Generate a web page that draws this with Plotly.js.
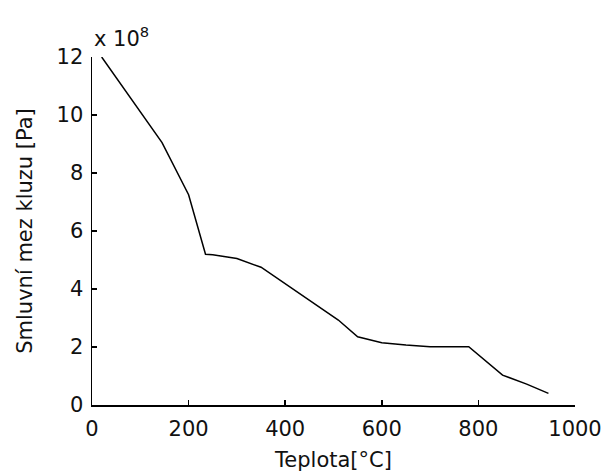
<!DOCTYPE html>
<html>
<head>
<meta charset="utf-8">
<script src="https://cdn.plot.ly/plotly-3.0.1.min.js"></script>
<style>
  html, body { margin: 0; padding: 0; background: #fff; }
  #chart { width: 604px; height: 474px; }
</style>
</head>
<body>
<div id="chart"></div>
<script>
// Temperature [°C]
const temperature = [20, 145, 200, 235, 250, 300, 350, 510, 550, 600, 650, 700, 780, 850, 900, 945];
// Conventional yield strength, in units of 10^8 Pa
const yieldStrength = [12.0, 9.05, 7.25, 5.2, 5.18, 5.05, 4.75, 2.93, 2.35, 2.15, 2.07, 2.01, 2.01, 1.03, 0.72, 0.40];

const xTicks = [0, 200, 400, 600, 800, 1000];
const yTicks = [0, 2, 4, 6, 8, 10, 12];

const font = { family: 'DejaVu Sans, Verdana, sans-serif', size: 21, color: '#111' };

const trace = {
  x: temperature,
  y: yieldStrength,
  type: 'scatter',
  mode: 'lines',
  line: { color: '#000', width: 1.5 },
  hoverinfo: 'skip'
};

const axisCommon = {
  showgrid: false,
  zeroline: false,
  showline: true,
  linecolor: '#000',
  linewidth: 1.5,
  ticks: 'inside',
  ticklen: 5,
  tickwidth: 1.5,
  tickcolor: '#000',
  tickfont: font,
  tickmode: 'array'
};

const layout = {
  width: 604,
  height: 474,
  margin: { l: 92, r: 29, t: 57, b: 69 },
  paper_bgcolor: '#fff',
  plot_bgcolor: '#fff',
  font: font,
  showlegend: false,
  xaxis: Object.assign({}, axisCommon, {
    range: [0, 1000],
    tickvals: xTicks,
    ticktext: xTicks.map(String),
    ticklabelstandoff: 4,
    title: { text: 'Teplota[°C]', font: font, standoff: 12 }
  }),
  yaxis: Object.assign({}, axisCommon, {
    range: [0, 12],
    tickvals: yTicks,
    ticktext: yTicks.map(String),
    ticklabelstandoff: 3,
    title: { text: 'Smluvní mez kluzu [Pa]', font: font, standoff: 18 }
  }),
  annotations: [{
    xref: 'paper', yref: 'paper',
    x: 0, y: 1,
    xanchor: 'left', yanchor: 'bottom',
    yshift: 4,
    showarrow: false,
    text: 'x 10<sup>8</sup>',
    font: font
  }]
};

Plotly.newPlot('chart', [trace], layout, { staticPlot: true, displayModeBar: false });
</script>
</body>
</html>
